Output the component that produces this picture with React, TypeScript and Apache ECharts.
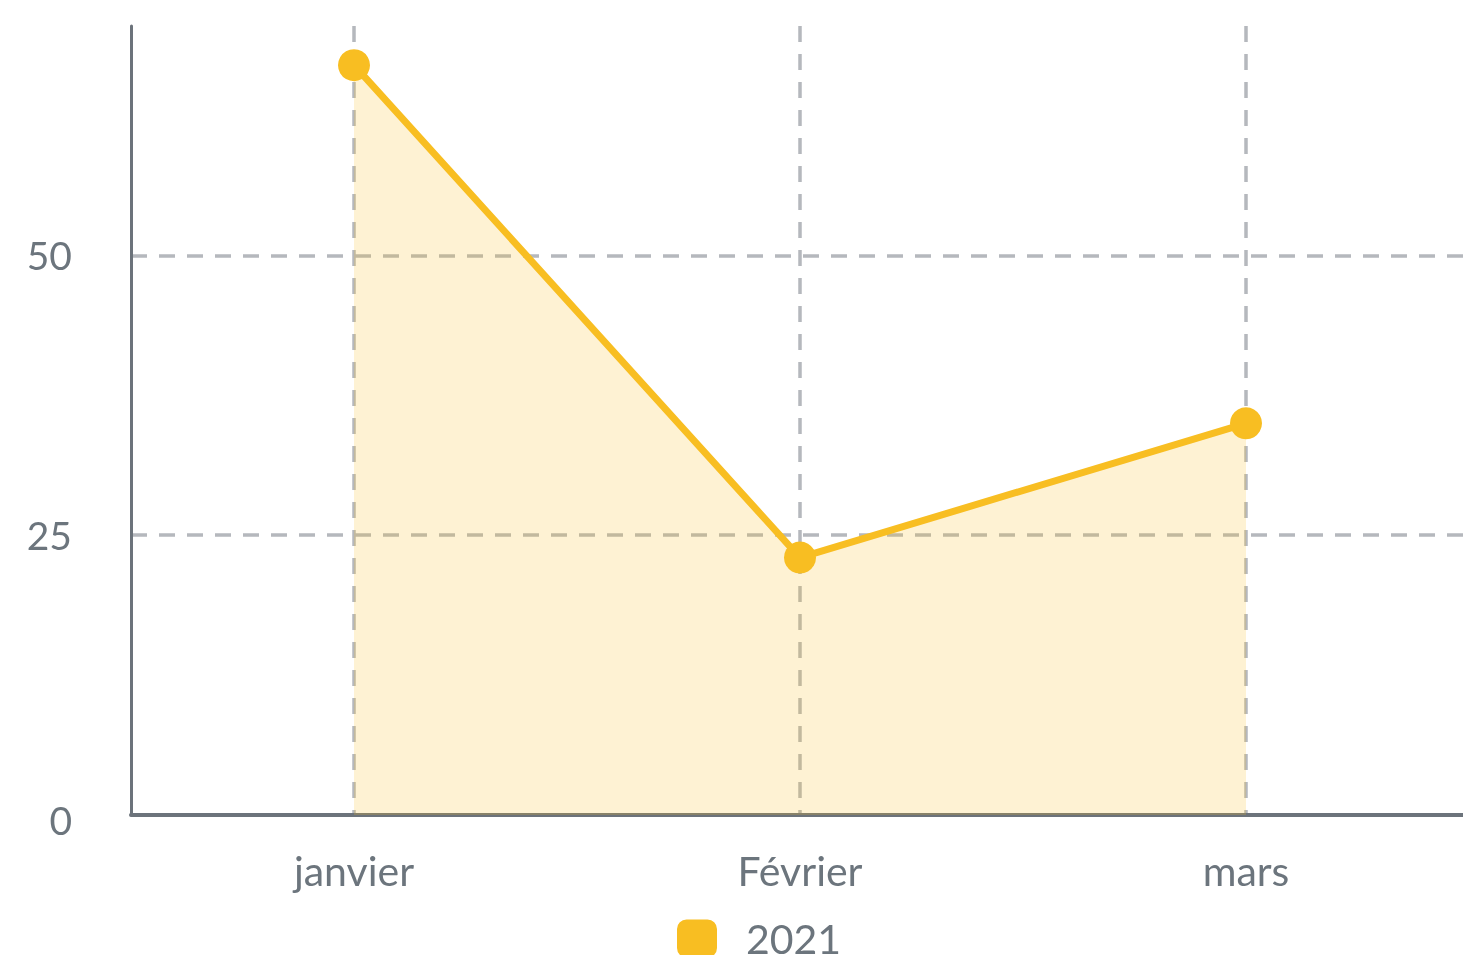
import React, { useEffect, useRef } from "react";
import * as echarts from "echarts";

const categories = ["janvier", "Février", "mars"];
const seriesName = "2021";
const values = [67, 23, 35];
const yTicks = [0, 25, 50];

const LINE = "#f8be22";
const TEXT = "#6c757d";
const AXIS = "#6c737b";
const GRID = "#b5b8bd";

export default function App() {
  const ref = useRef<HTMLDivElement>(null);
  useEffect(() => {
    if (!ref.current) return;
    const chart = echarts.init(ref.current, undefined, { renderer: "svg" });
    chart.setOption({
      animation: false,
      textStyle: { fontFamily: "Lato" },
      grid: { left: 131, right: 0, top: 26, bottom: 140, containLabel: false },
      legend: {
        show: true,
        top: 918,
        left: 677,
        padding: 0,
        itemWidth: 40,
        itemHeight: 38,
        itemGap: 20,
        icon: "roundRect",
        textStyle: { color: TEXT, fontSize: 41, fontFamily: "Lato", padding: [0, 0, 0, 24] },
        data: [{ name: seriesName, itemStyle: { color: LINE } }],
      },
      xAxis: {
        type: "category",
        data: categories,
        boundaryGap: true,
        axisLine: { show: true, onZero: false, lineStyle: { color: AXIS, width: 4 } },
        axisTick: { show: false, alignWithLabel: true },
        axisLabel: { color: TEXT, fontSize: 41, fontFamily: "Lato", margin: 35 },
        splitLine: {
          show: true,
          alignWithLabel: true,
          lineStyle: { color: GRID, width: 3.5, type: [16, 12] },
        },
      },
      yAxis: {
        type: "value",
        min: yTicks[0],
        max: 70.5,
        interval: yTicks[1] - yTicks[0],
        axisLine: { show: true, lineStyle: { color: AXIS, width: 3 } },
        axisTick: { show: false },
        axisLabel: {
          color: TEXT,
          fontSize: 39,
          fontFamily: "Lato",
          margin: 59,
          showMaxLabel: false,
          formatter: (v: number) =>
            v === 0 ? "{zero|0}" : yTicks.includes(v) ? String(v) : "",
          rich: {
            zero: { color: TEXT, fontSize: 39, fontFamily: "Lato", padding: [9, 0, 0, 0] },
          },
        },
        splitLine: {
          show: true,
          showMinLine: false,
          showMaxLine: false,
          lineStyle: { color: GRID, width: 3.5, type: [16, 12] },
        },
      },
      series: [
        {
          name: seriesName,
          type: "line",
          data: values,
          symbol: "circle",
          symbolSize: 32,
          itemStyle: { color: LINE },
          lineStyle: { color: LINE, width: 7 },
          areaStyle: { color: LINE, opacity: 0.2 },
        },
      ],
    });
    return () => chart.dispose();
  }, []);
  return (
    <div
      style={{
        position: "fixed",
        left: 0,
        top: 0,
        width: 1463,
        height: 955,
        overflow: "hidden",
      }}
    >
      <div ref={ref} style={{ width: 1469, height: 955 }} />
    </div>
  );
}
